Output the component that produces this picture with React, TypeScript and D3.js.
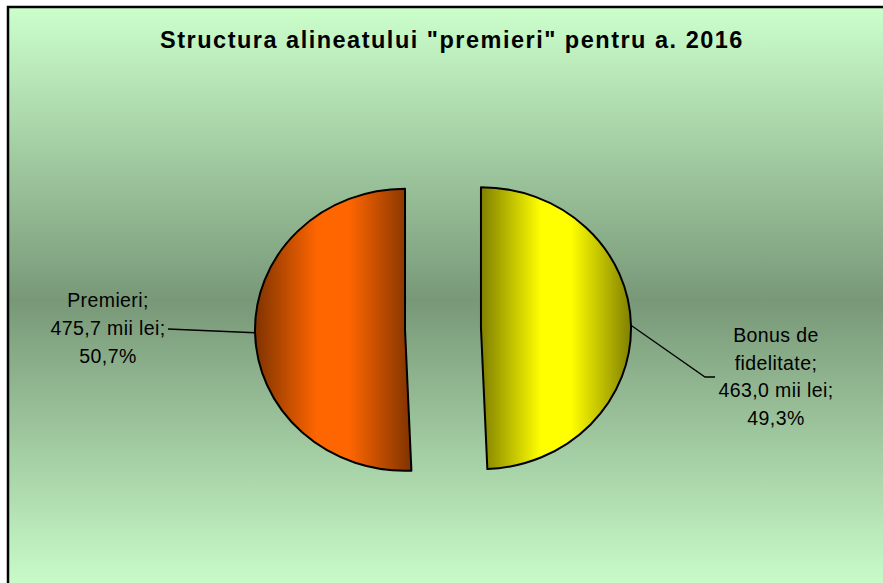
import React from 'react';
import * as d3 from 'd3';

// date din grafic
const categories = ['Bonus de fidelitate', 'Premieri'];
const categoryLines = [['Bonus de', 'fidelitate;'], ['Premieri;']];
const values = [463.0, 475.7];
const title = 'Structura alineatului "premieri" pentru a. 2016';
const unit = 'mii lei';

const brightColors = ['#FFFF00', '#FF6600'];
const darkColors = ['#808000', '#7F3300'];

const width = 883;
const height = 583;
const cx = 443;
const cy = 329;
const radius = 141;
const stretchX = 1.064; // Excel a intins imaginea pe orizontala
const explode = 35.7;
const lineHeight = 27.8;

// pozitiile etichetelor (centru bloc) si capetele liniilor de legatura
const labelPos = [
  { x: 776, y: 383.5, leader: [[705, 377], [715, 377]] },
  { x: 108, y: 335, leader: [[168, 329]] },
];

const ro = d3.formatLocale({ decimal: ',', thousands: '.', grouping: [3], currency: ['', ''] });
const fmtVal = ro.format('.1f');
const fmtPct = ro.format('.1%');

const App = () => {
  const total = d3.sum(values);
  const pie = d3.pie<number>().sort(null).startAngle(0).endAngle(2 * Math.PI);
  const arcs = pie(values);
  const arc = d3.arc<d3.PieArcDatum<number>>().innerRadius(0).outerRadius(radius);

  // punct pe ecran pentru un unghi si o raza
  const toScreen = (angle: number, r: number) => [
    cx + stretchX * r * Math.sin(angle),
    cy - r * Math.cos(angle),
  ];

  return (
    <svg width={width} height={height} style={{ position: 'absolute', left: 0, top: 0 }}>
      <defs>
        <linearGradient id="bg" gradientUnits="userSpaceOnUse" x1="0" y1="7" x2="0" y2="595">
          <stop offset="0" stopColor="#CCFFCC" />
          <stop offset="0.5" stopColor="#789878" />
          <stop offset="1" stopColor="#CCFFCC" />
        </linearGradient>
        {arcs.map((a, i) => (
          <linearGradient key={i} id={`slice${i}`} x1="0" y1="0" x2="1" y2="0">
            <stop offset="0" stopColor={darkColors[i]} />
            <stop offset="0.4" stopColor={brightColors[i]} />
            <stop offset="0.6" stopColor={brightColors[i]} />
            <stop offset="1" stopColor={darkColors[i]} />
          </linearGradient>
        ))}
      </defs>

      <rect x={8} y={7} width={900} height={600} fill="url(#bg)" stroke="#000" strokeWidth={2.5} />

      <text
        x={452}
        y={48}
        textAnchor="middle"
        fontFamily="'Liberation Sans', Arial, sans-serif"
        fontWeight="bold"
        fontSize={23.5}
        letterSpacing={1.5}
        fill="#000"
      >
        {title}
      </text>

      <g transform={`translate(${cx},${cy}) scale(${stretchX},1)`}>
        {arcs.map((a, i) => {
          const mid = (a.startAngle + a.endAngle) / 2;
          const dx = explode * Math.sin(mid);
          const dy = -explode * Math.cos(mid);
          return (
            <path
              key={categories[i]}
              d={arc(a) || ''}
              transform={`translate(${dx},${dy})`}
              fill={`url(#slice${i})`}
              stroke="#000"
              strokeWidth={2}
              strokeLinejoin="round"
              vectorEffect="non-scaling-stroke"
            />
          );
        })}
      </g>

      {arcs.map((a, i) => {
        const mid = (a.startAngle + a.endAngle) / 2;
        const start = toScreen(mid, radius + explode);
        const pts = [start, ...labelPos[i].leader];
        const lines = [
          ...categoryLines[i],
          `${fmtVal(values[i])} ${unit};`,
          fmtPct(values[i] / total),
        ];
        const top = labelPos[i].y - ((lines.length - 1) * lineHeight) / 2;
        return (
          <g key={categories[i]}>
            <path d={d3.line()(pts as [number, number][]) || ''} fill="none" stroke="#000" strokeWidth={1.3} />
            <text
              textAnchor="middle"
              fontFamily="'Liberation Sans', Arial, sans-serif"
              fontSize={19.5}
              letterSpacing={0.4}
              fill="#000"
            >
              {lines.map((t, j) => (
                <tspan key={j} x={labelPos[i].x} y={top + j * lineHeight}>
                  {t}
                </tspan>
              ))}
            </text>
          </g>
        );
      })}
    </svg>
  );
};

export default App;
